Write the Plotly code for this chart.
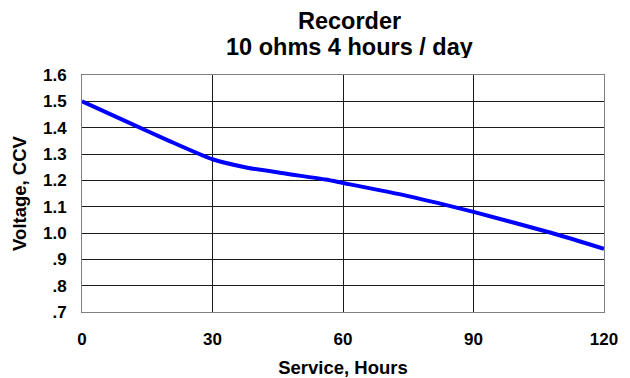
import plotly.graph_objects as go

hours = [0, 10, 20, 30, 38, 47, 56, 60, 75, 90, 108, 120]
volts = [1.5, 1.425, 1.35, 1.28, 1.248, 1.225, 1.203, 1.19, 1.14, 1.08, 1.0, 0.94]

x_ticks = [0, 30, 60, 90, 120]
x_labels = ["0", "30", "60", "90", "120"]
y_ticks = [0.7, 0.8, 0.9, 1.0, 1.1, 1.2, 1.3, 1.4, 1.5, 1.6]
y_labels = [".7", ".8", ".9", "1.0", "1.1", "1.2", "1.3", "1.4", "1.5", "1.6"]
title_lines = ["Recorder", "10 ohms 4 hours / day"]

FONT = "Liberation Sans, Arial, sans-serif"
OFF = 8  # page body margin offset
PLOT_TOP, PLOT_BOTTOM, PLOT_LEFT, PLOT_RIGHT = 75, 312, 82, 604

fig = go.Figure()
fig.add_trace(go.Scatter(x=hours, y=volts, mode="lines",
                         line=dict(color="#0000ff", width=4, shape="spline", smoothing=0.6),
                         showlegend=False, hoverinfo="skip"))

fig.update_layout(
    width=630, height=378,
    paper_bgcolor="white", plot_bgcolor="white",
    margin=dict(l=PLOT_LEFT - OFF, r=630 - PLOT_RIGHT + OFF, t=PLOT_TOP - OFF, b=378 - PLOT_BOTTOM + OFF),
    font=dict(family=FONT, color="black"),
)

# title lines as annotations (page y of line centre)
for txt, yc in zip(title_lines, [21.5, 47.5]):
    fig.add_annotation(text=f"<b>{txt}</b>", showarrow=False,
                       xref="paper", yref="paper",
                       x=(349 - PLOT_LEFT) / (PLOT_RIGHT - PLOT_LEFT),
                       y=(PLOT_BOTTOM - yc) / (PLOT_BOTTOM - PLOT_TOP),
                       xanchor="center", yanchor="middle", height=22,
                       font=dict(size=23.5, family=FONT, color="black"))

fig.update_xaxes(range=[0, 120], tickvals=x_ticks, ticktext=[f"<b>{t}</b>" for t in x_labels],
                 showgrid=True, gridcolor="#1a1a1a", gridwidth=1,
                 showline=True, linecolor="#808080", linewidth=1, mirror=True,
                 zeroline=False, ticks="", ticklabelstandoff=12, automargin=False,
                 tickfont=dict(size=17, family=FONT),
                 title=dict(text="<b>Service, Hours</b>", font=dict(size=18.5, family=FONT), standoff=12))
fig.update_yaxes(range=[0.7, 1.6], tickvals=y_ticks, ticktext=[f"<b>{t}</b>" for t in y_labels],
                 showgrid=True, gridcolor="#1a1a1a", gridwidth=1,
                 showline=True, linecolor="#808080", linewidth=1, mirror=True,
                 zeroline=False, ticks="", ticklabelstandoff=11, automargin=False,
                 tickfont=dict(size=17, family=FONT),
                 title=dict(text="<b>Voltage, CCV</b>", font=dict(size=18.5, family=FONT), standoff=11))

fig.write_html("out.html")
